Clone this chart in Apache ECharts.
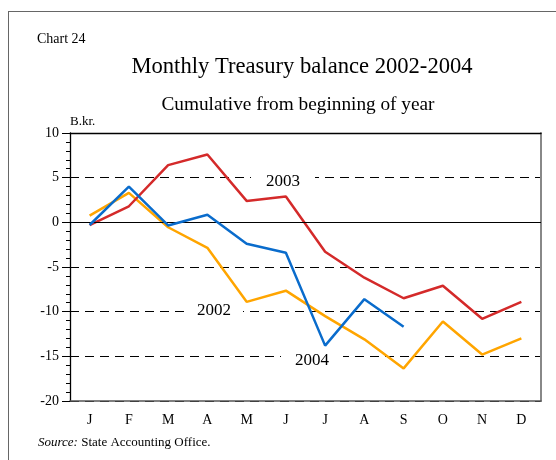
<!DOCTYPE html>
<html>
<head>
<meta charset="utf-8">
<script src="https://cdn.jsdelivr.net/npm/echarts@6/dist/echarts.min.js"></script>
<style>
  html, body { margin: 0; padding: 0; background: #fff; }
  #chart { width: 556px; height: 460px; }
</style>
</head>
<body>
<div id="chart"></div>
<script>
let months = ['J', 'F', 'M', 'A', 'M', 'J', 'J', 'A', 'S', 'O', 'N', 'D'];
let yTicks = [10, 5, 0, -5, -10, -15, -20];
let balance2002 = [0.75, 3.3, -0.55, -2.85, -8.9, -7.65, -10.5, -13.1, -16.35, -11.1, -14.8, -13.0];
let balance2003 = [-0.3, 1.8, 6.4, 7.6, 2.4, 2.9, -3.3, -6.2, -8.5, -7.1, -10.8, -8.9];
let balance2004 = [-0.3, 4.0, -0.35, 0.85, -2.4, -3.4, -13.8, -8.6, -11.7];

const serif = "'Liberation Serif', 'Times New Roman', serif";

function yearLabel(text, x, y, padX) {
    return {
        type: 'text',
        left: x,
        top: y,
        z: 50,
        style: {
            text: text,
            font: '17px ' + serif,
            fill: '#000',
            backgroundColor: '#fff',
            padding: [0, padX, 0, padX]
        }
    };
}

function renderChart() {
    let chart = echarts.init(document.getElementById('chart'), null, {renderer: 'canvas'});
    let options = {
        animation: false,
        backgroundColor: '#fff',
        grid: {left: 70, right: 15, top: 133, bottom: 59, containLabel: false},
        xAxis: [
            {
                type: 'category',
                data: months,
                boundaryGap: true,
                axisLine: {onZero: false, lineStyle: {color: '#555', width: 1.5}},
                axisTick: {alignWithLabel: true, length: 5, lineStyle: {color: '#000'}},
                axisLabel: {color: '#000', fontFamily: serif, fontSize: 14, margin: 12},
                splitLine: {show: false}
            },
            {
                type: 'category',
                data: months,
                position: 'top',
                axisLine: {onZero: false, lineStyle: {color: '#000', width: 1.3}},
                axisTick: {show: false},
                axisLabel: {show: false},
                splitLine: {show: false}
            }
        ],
        yAxis: [
            {
                type: 'value',
                min: yTicks[yTicks.length - 1],
                max: yTicks[0],
                interval: 5,
                axisLine: {show: true, onZero: false, lineStyle: {color: '#000', width: 1.3}},
                axisTick: {show: true, length: 8, lineStyle: {color: '#000'}},
                minorTick: {show: true, splitNumber: 5, length: 4, lineStyle: {color: '#000'}},
                axisLabel: {color: '#000', fontFamily: serif, fontSize: 14, margin: 11},
                splitLine: {show: true, lineStyle: {color: '#000', width: 1, type: [9, 6]}}
            },
            {
                type: 'value',
                min: yTicks[yTicks.length - 1],
                max: yTicks[0],
                interval: 5,
                position: 'right',
                axisLine: {show: true, onZero: false, lineStyle: {color: '#888', width: 2}},
                axisTick: {show: false},
                axisLabel: {show: false},
                splitLine: {show: false}
            }
        ],
        series: [
            {
                name: '2002',
                type: 'line',
                data: balance2002,
                symbol: 'none',
                lineStyle: {color: '#ffa500', width: 2.5},
                z: 3,
                markLine: {
                    silent: true,
                    symbol: 'none',
                    label: {show: false},
                    lineStyle: {color: '#000', width: 1.2, type: 'solid'},
                    data: [{yAxis: 0}]
                }
            },
            {
                name: '2003',
                type: 'line',
                data: balance2003,
                symbol: 'none',
                lineStyle: {color: '#d42a2a', width: 2.5},
                z: 4
            },
            {
                name: '2004',
                type: 'line',
                data: balance2004,
                symbol: 'none',
                lineStyle: {color: '#0a6ccc', width: 2.5},
                z: 5
            }
        ],
        graphic: [
            {type: 'line', shape: {x1: 8, y1: 11.5, x2: 556, y2: 11.5}, style: {stroke: '#666', lineWidth: 1}},
            {type: 'line', shape: {x1: 8.5, y1: 11, x2: 8.5, y2: 460}, style: {stroke: '#666', lineWidth: 1}},
            {type: 'text', left: 37, top: 32, style: {text: 'Chart 24', font: '14px ' + serif, fill: '#000'}},
            {type: 'text', x: 302, y: 56, style: {text: 'Monthly Treasury balance 2002-2004', font: '22.6px ' + serif, fill: '#000', textAlign: 'center'}},
            {type: 'text', x: 298, y: 95, style: {text: 'Cumulative from beginning of year', font: '19.3px ' + serif, fill: '#000', textAlign: 'center'}},
            {type: 'text', left: 70, top: 115, style: {text: 'B.kr.', font: '13px ' + serif, fill: '#000'}},
            yearLabel('2003', 251, 173, 15),
            yearLabel('2002', 185, 302, 12),
            yearLabel('2004', 281, 352, 14),
            {
                type: 'text', left: 38, top: 436,
                style: {
                    text: '{i|Source:} State Accounting Office.',
                    font: '13px ' + serif,
                    fill: '#000',
                    rich: {i: {fontStyle: 'italic', fontSize: 13, fontFamily: serif}}
                }
            }
        ]
    };
    chart.setOption(options);
}

renderChart();
</script>
</body>
</html>
